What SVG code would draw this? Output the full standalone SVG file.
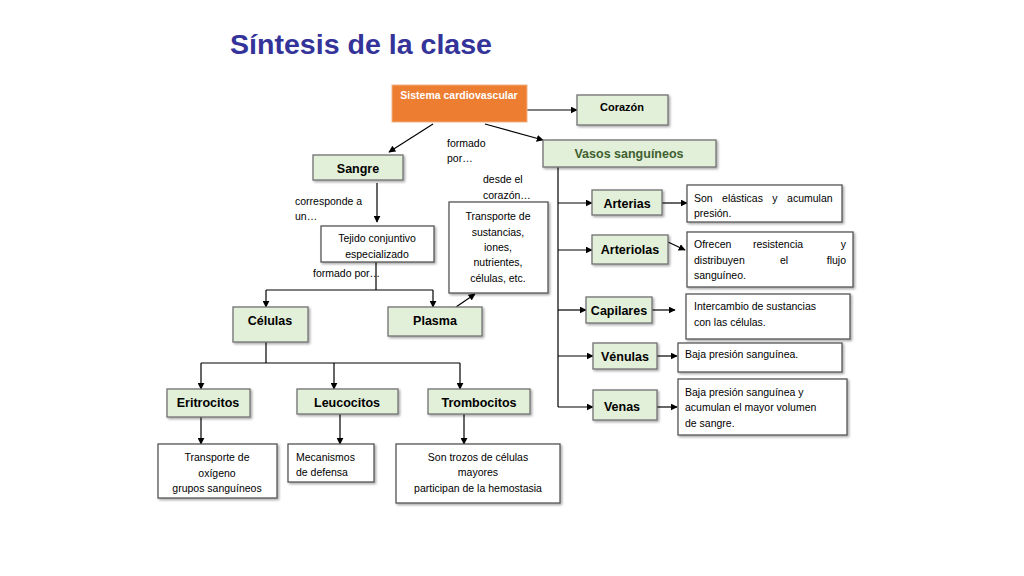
<svg xmlns="http://www.w3.org/2000/svg" width="1024" height="576" viewBox="0 0 1024 576">
<style>
text{font-family:"Liberation Sans",Arial,sans-serif;fill:#000}
.title{font-size:28.5px;font-weight:bold;fill:#333399}
.g{fill:#E2EFD9;stroke:#707070;stroke-width:1.3}
.w{fill:#fff;stroke:#555;stroke-width:1.3}
.o{fill:#ED7D31;stroke:#F4B183;stroke-width:1}
.b{font-size:12.5px;font-weight:bold;text-anchor:middle}
.s{font-size:10.5px}
.sc{font-size:10.5px;text-anchor:middle}
.l{fill:none;stroke:#000;stroke-width:1.2}
.a{fill:none;stroke:#000;stroke-width:1.2;marker-end:url(#ar)}
</style>
<defs>
<marker id="ar" viewBox="0 0 10 10" refX="9" refY="5" markerWidth="7" markerHeight="7" markerUnits="userSpaceOnUse" orient="auto">
<path d="M0,0 L10,5 L0,10 z" fill="#000"/>
</marker>
<filter id="sh" x="-10%" y="-10%" width="130%" height="140%">
<feDropShadow dx="1.5" dy="1.5" stdDeviation="0.8" flood-color="#000" flood-opacity="0.35"/>
</filter>
</defs>
<rect width="1024" height="576" fill="#fff"/>
<text class="title" x="230" y="54" textLength="262" lengthAdjust="spacingAndGlyphs">Síntesis de la clase</text>

<g id="connectors">
<path class="a" d="M527,110 H577"/>
<path class="a" d="M433,124 L389,152"/>
<path class="a" d="M485,124 L543,140"/>
<path class="a" d="M377,183 V222"/>
<path class="l" d="M376,262 V290 M266,290 H433"/>
<path class="a" d="M266,290 V307"/>
<path class="a" d="M433,290 V307"/>
<path class="a" d="M456,307 L475,294"/>
<path class="l" d="M266,342 V363 M201,363 H460"/>
<path class="a" d="M201,363 V389"/>
<path class="a" d="M334,363 V389"/>
<path class="a" d="M460,363 V389"/>
<path class="a" d="M201,417 V444"/>
<path class="a" d="M340,414 V444"/>
<path class="a" d="M464,414 V444"/>
<path class="l" d="M558,167 V407"/>
<path class="a" d="M558,203 H592"/>
<path class="a" d="M558,250 H592"/>
<path class="a" d="M558,310 H586"/>
<path class="a" d="M558,356 H593"/>
<path class="a" d="M558,407 H593"/>
<path class="a" d="M662,203 H687"/>
<path class="a" d="M668,242 L685,250"/>
<path class="a" d="M652,310 H675"/>
<path class="a" d="M657,356 H677"/>
<path class="a" d="M657,407 H677"/>
</g>

<g id="sistema"><rect class="o" x="392" y="85" width="135" height="37"/><text x="459" y="99" text-anchor="middle" font-size="10.5" font-weight="bold" style="fill:#fff">Sistema cardiovascular</text></g>
<g id="corazon"><rect class="g" filter="url(#sh)" x="577" y="95" width="91" height="30"/><text class="b" x="622" y="111" style="font-size:11px">Corazón</text></g>
<g id="vasos"><rect class="g" filter="url(#sh)" x="543" y="140" width="173" height="27"/><text class="b" x="629" y="158" style="fill:#3F6130">Vasos sanguíneos</text></g>
<g id="sangre"><rect class="g" filter="url(#sh)" x="313" y="155" width="90" height="25"/><text class="b" x="358" y="173">Sangre</text></g>

<g id="lbl-formado1"><text class="s" x="447" y="147">formado</text><text class="s" x="447" y="162">por…</text></g>
<g id="lbl-desde"><text class="s" x="483" y="183">desde el</text><text class="s" x="483" y="199">corazón…</text></g>
<g id="lbl-corresponde"><text class="s" x="295" y="205">corresponde a</text><text class="s" x="295" y="220">un…</text></g>
<g id="lbl-formado2"><text class="s" x="313" y="277">formado por…</text></g>

<g id="tejido"><rect class="w" filter="url(#sh)" x="321" y="226" width="113" height="36"/><text class="sc" x="377" y="242">Tejido conjuntivo</text><text class="sc" x="377" y="258">especializado</text></g>
<g id="transporte"><rect class="w" filter="url(#sh)" x="449" y="202" width="99" height="91"/><text class="sc" x="498" y="220">Transporte de</text><text class="sc" x="498" y="236">sustancias,</text><text class="sc" x="498" y="251">iones,</text><text class="sc" x="498" y="266">nutrientes,</text><text class="sc" x="498" y="282">células, etc.</text></g>

<g id="celulas"><rect class="g" filter="url(#sh)" x="233" y="307" width="75" height="35"/><text class="b" x="270" y="325">Células</text></g>
<g id="plasma"><rect class="g" filter="url(#sh)" x="388" y="307" width="94" height="29"/><text class="b" x="435" y="325">Plasma</text></g>

<g id="eritrocitos"><rect class="g" filter="url(#sh)" x="167" y="389" width="83" height="28"/><text class="b" x="208" y="407">Eritrocitos</text></g>
<g id="leucocitos"><rect class="g" filter="url(#sh)" x="297" y="389" width="101" height="25"/><text class="b" x="347" y="407">Leucocitos</text></g>
<g id="trombocitos"><rect class="g" filter="url(#sh)" x="428" y="389" width="102" height="25"/><text class="b" x="479" y="407">Trombocitos</text></g>

<g id="eri-desc"><rect class="w" filter="url(#sh)" x="158" y="444" width="119" height="54"/><text class="sc" x="217" y="461">Transporte de</text><text class="sc" x="217" y="477">oxígeno</text><text class="sc" x="217" y="492">grupos sanguíneos</text></g>
<g id="leu-desc"><rect class="w" filter="url(#sh)" x="288" y="444" width="86" height="38"/><text class="s" x="296" y="461">Mecanismos</text><text class="s" x="296" y="476">de defensa</text></g>
<g id="tro-desc"><rect class="w" filter="url(#sh)" x="396" y="444" width="164" height="59"/><text class="sc" x="478" y="461">Son trozos de células</text><text class="sc" x="478" y="476">mayores</text><text class="sc" x="478" y="492">participan de la hemostasia</text></g>

<g id="arterias"><rect class="g" filter="url(#sh)" x="592" y="190" width="70" height="25"/><text class="b" x="627" y="208">Arterias</text></g>
<g id="arteriolas"><rect class="g" filter="url(#sh)" x="592" y="235" width="76" height="29"/><text class="b" x="630" y="254">Arteriolas</text></g>
<g id="capilares"><rect class="g" filter="url(#sh)" x="586" y="297" width="66" height="26"/><text class="b" x="619" y="315">Capilares</text></g>
<g id="venulas"><rect class="g" filter="url(#sh)" x="593" y="343" width="64" height="26"/><text class="b" x="625" y="361">Vénulas</text></g>
<g id="venas"><rect class="g" filter="url(#sh)" x="593" y="390" width="64" height="30"/><text class="b" x="622" y="411">Venas</text></g>

<g id="art-desc"><rect class="w" filter="url(#sh)" x="687" y="185" width="155" height="37"/><text class="s" x="694" y="202" word-spacing="6.5">Son elásticas y acumulan</text><text class="s" x="694" y="217">presión.</text></g>
<g id="arl-desc"><rect class="w" filter="url(#sh)" x="687" y="232" width="166" height="55"/><text class="s" x="694" y="248">Ofrecen</text><text class="sc" x="778" y="248">resistencia</text><text class="s" x="846" y="248" text-anchor="end">y</text><text class="s" x="694" y="264">distribuyen</text><text class="sc" x="784" y="264">el</text><text class="s" x="846" y="264" text-anchor="end">flujo</text><text class="s" x="694" y="279">sanguíneo.</text></g>
<g id="cap-desc"><rect class="w" filter="url(#sh)" x="686" y="294" width="164" height="45"/><text class="s" x="694" y="310">Intercambio de sustancias</text><text class="s" x="694" y="326">con las células.</text></g>
<g id="ven-desc"><rect class="w" filter="url(#sh)" x="678" y="343" width="164" height="29"/><text class="s" x="685" y="358">Baja presión sanguínea.</text></g>
<g id="vena-desc"><rect class="w" filter="url(#sh)" x="678" y="379" width="169" height="56"/><text class="s" x="685" y="396">Baja presión sanguínea y</text><text class="s" x="685" y="411">acumulan el mayor volumen</text><text class="s" x="685" y="427">de sangre.</text></g>
</svg>
